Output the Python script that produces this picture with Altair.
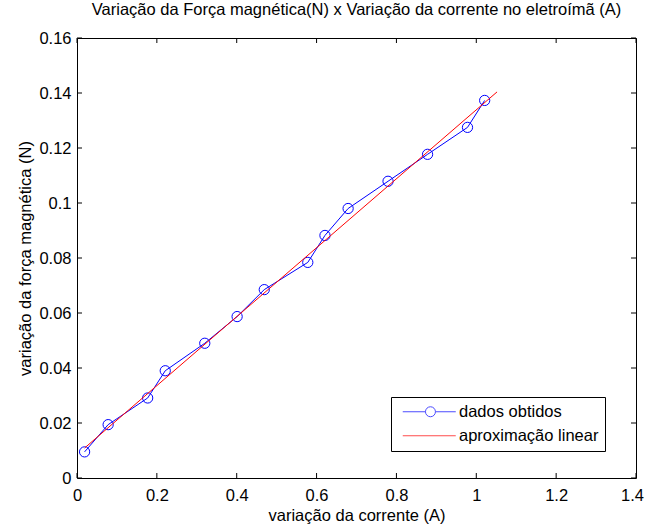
import altair as alt
import pandas as pd

# ---- data ----
corrente = [0.019, 0.078, 0.177, 0.221, 0.320, 0.401, 0.469, 0.578, 0.621, 0.679, 0.779, 0.878, 0.978, 1.021]
forca = [0.0095, 0.0194, 0.0291, 0.0390, 0.0490, 0.0587, 0.0685, 0.0784, 0.0882, 0.0980, 0.1079, 0.1177, 0.1275, 0.1373]
fit_x = [0.019, 1.052]
fit_y = [0.0109, 0.1404]
x_ticks = [0, 0.2, 0.4, 0.6, 0.8, 1.0, 1.2, 1.4]
y_ticks = [0, 0.02, 0.04, 0.06, 0.08, 0.10, 0.12, 0.14, 0.16]
series = ["dados obtidos", "aproximação linear"]

FONT = "Liberation Sans"
FS = 16.5
W, H = 559, 440

dados = pd.DataFrame({"x": corrente, "y": forca})
ajuste = pd.DataFrame({"x": fit_x, "y": fit_y})
xt = pd.DataFrame({"v": x_ticks})
yt = pd.DataFrame({"v": y_ticks})
leg = pd.DataFrame({"s": series})

common = dict(grid=False, ticks=False, domain=False, format="~g", labelFlush=False,
              labelFont=FONT, labelFontSize=FS, labelColor="black",
              titleFont=FONT, titleFontSize=FS, titleFontWeight="normal", titleColor="black")

xs = alt.Scale(domain=[0, 1.4], nice=False, zero=False)
ys = alt.Scale(domain=[0, 0.16], nice=False, zero=False)
xaxis = alt.Axis(values=x_ticks, labelPadding=9, titlePadding=4,
                 labelOffset={"condition": {"test": "datum.value >= 1.39", "value": -4}, "value": 0},
                 title="variação da corrente (A)", **common)
yaxis = alt.Axis(values=y_ticks, labelPadding=6, titlePadding=5,
                 title="variação da força magnética (N)", **common)

X = lambda f: alt.X(f, scale=xs, axis=xaxis)
Y = lambda f: alt.Y(f, scale=ys, axis=yaxis)

blue_line = alt.Chart(dados).mark_line(color="#0000ff", strokeWidth=1).encode(x=X("x:Q"), y=Y("y:Q"))
blue_pts = alt.Chart(dados).mark_point(color="#0000ff", filled=False, size=105, strokeWidth=1, opacity=1).encode(
    x=X("x:Q"), y=Y("y:Q"))
red_line = alt.Chart(ajuste).mark_line(color="#ff0000", strokeWidth=1).encode(x=X("x:Q"), y=Y("y:Q"))

tick_b = alt.Chart(xt).mark_rule(color="black", strokeWidth=1).encode(x=X("v:Q"), y=alt.value(H), y2=alt.value(H - 5))
tick_t = alt.Chart(xt).mark_rule(color="black", strokeWidth=1).encode(x=X("v:Q"), y=alt.value(0), y2=alt.value(5))
tick_l = alt.Chart(yt).mark_rule(color="black", strokeWidth=1).encode(y=Y("v:Q"), x=alt.value(0), x2=alt.value(5))
tick_r = alt.Chart(yt).mark_rule(color="black", strokeWidth=1).encode(y=Y("v:Q"), x=alt.value(W), x2=alt.value(W - 5))

blue_sym = "M-0.6,0L3.94,0M5.94,0L10,0M3.94,0A1,1 0 1,1 5.94,0A1,1 0 1,1 3.94,0"
red_sym = "M-0.6,0L10,0"

legend_layer = alt.Chart(leg).transform_filter("datum.s == 'nenhum'").mark_point(filled=False, strokeWidth=1).encode(
    color=alt.Color("s:N", scale=alt.Scale(domain=series, range=["#0000ff", "#ff0000"]),
                    legend=alt.Legend(title=None, orient="none", legendX=314, legendY=359,
                                      strokeColor="black", fillColor="white", padding=6.5,
                                      rowPadding=7, labelFont=FONT, labelFontSize=FS,
                                      labelColor="black", symbolSize=100, symbolStrokeWidth=1,
                                      labelOffset=45, cornerRadius=0)),
    shape=alt.Shape("s:N", scale=alt.Scale(domain=series, range=[blue_sym, red_sym]), legend=None),
)

chart = alt.layer(tick_b, tick_t, tick_l, tick_r, blue_line, blue_pts, red_line, legend_layer).properties(
    width=W, height=H,
    title=alt.TitleParams("Variação da Força magnética(N) x Variação da corrente no eletroímã (A)",
                          font=FONT, fontSize=FS, fontWeight="normal", color="black", offset=12, anchor="middle"),
    autosize=alt.AutoSizeParams(type="none"),
    padding={"left": 77, "top": 38, "right": 9, "bottom": 49},
    background="white",
).configure_view(stroke="black", strokeWidth=1)

chart.save("out.html", embed_options={"renderer": "svg", "actions": False})
